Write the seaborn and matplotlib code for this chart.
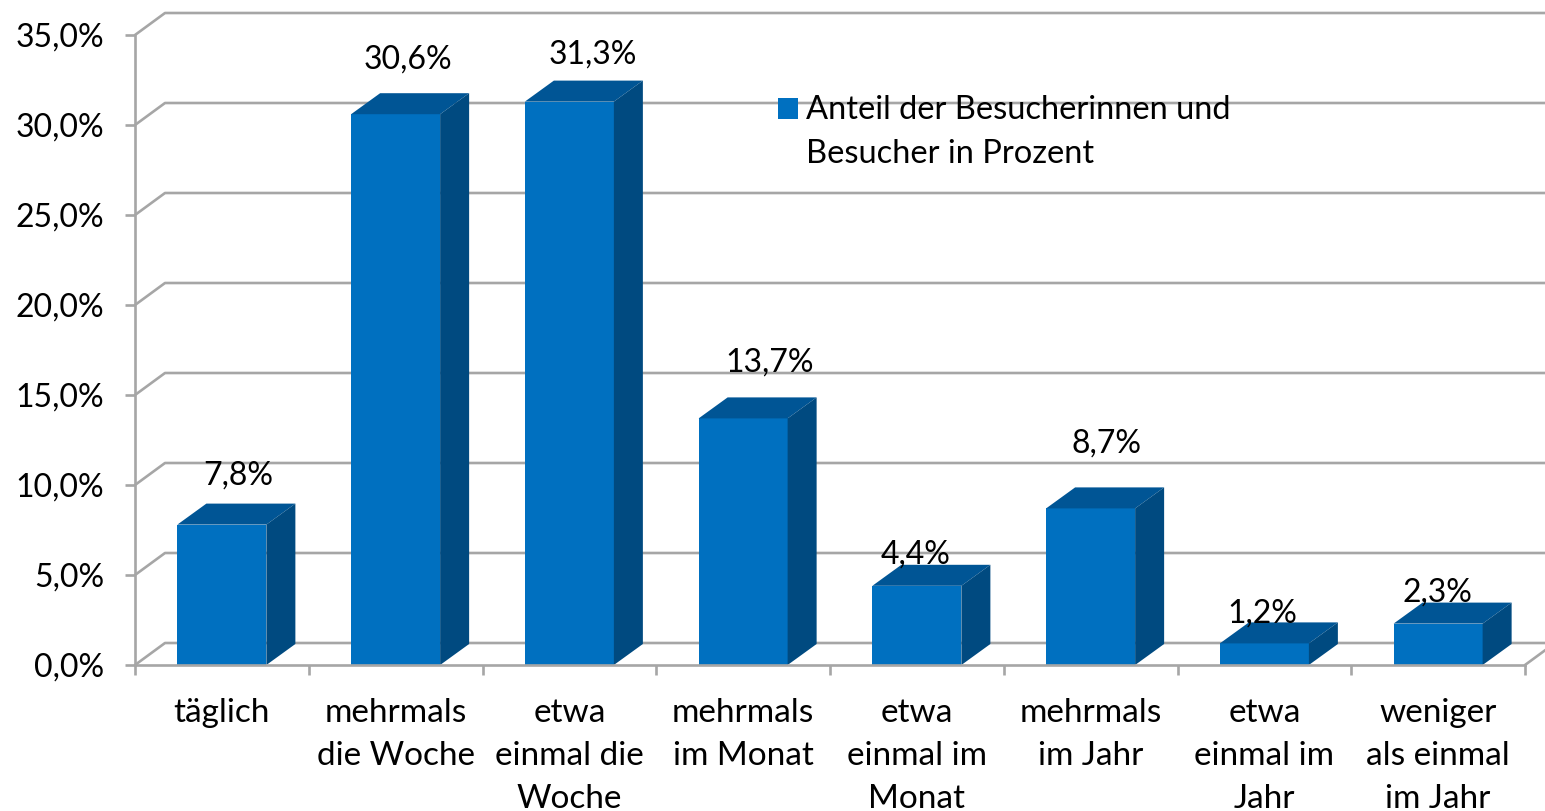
import matplotlib
matplotlib.use('Agg')
import matplotlib.pyplot as plt
import seaborn as sns
from matplotlib.patches import Polygon

categories = ['täglich', 'mehrmals\ndie Woche', 'etwa\neinmal die\nWoche', 'mehrmals\nim Monat',
              'etwa\neinmal im\nMonat', 'mehrmals\nim Jahr', 'etwa\neinmal im\nJahr', 'weniger\nals einmal\nim Jahr']
values = [7.8, 30.6, 31.3, 13.7, 4.4, 8.7, 1.2, 2.3]
bar_labels = ['7,8%', '30,6%', '31,3%', '13,7%', '4,4%', '8,7%', '1,2%', '2,3%']
y_ticks = [0, 5, 10, 15, 20, 25, 30, 35]
y_tick_labels = ['0,0%', '5,0%', '10,0%', '15,0%', '20,0%', '25,0%', '30,0%', '35,0%']
series_name = 'Anteil der Besucherinnen und\nBesucher in Prozent'

# pixel offsets of the labels from the top centre of each bar
label_offsets = [(16, 49), (12, 55), (23, 47), (27, 56), (-1, 31), (16, 65), (-2, 30), (-1, 31)]

sns.set_theme(style='white')
plt.rcParams['font.family'] = ['Lato', 'DejaVu Sans']

GREY = '#a6a6a6'
FRONT = '#0070c0'
TOP = '#005595'
SIDE = '#004a80'
FS = 24
FS_NUM = 23

fig = plt.figure(figsize=(15.45, 8.11), dpi=100)
ax = fig.add_axes([135 / 1545, 146 / 811, 1390 / 1545, 630 / 811])

sns.barplot(x=categories, y=values, color=FRONT, saturation=1, width=89 / 173.75,
            label=series_name, linewidth=0, edgecolor='none', ax=ax, zorder=3)
ax.set_xlim(-0.5, 7.5)
ax.set_ylim(0, 35)

# depth of the fake 3D, in data units
wall_dx = 30 / 173.75
wall_dy = 22 / 18
bar_dx = 29 / 173.75
bar_dy = 21 / 18

for v in y_ticks:
    ax.plot([-0.5, -0.5 + wall_dx, 7.5 + wall_dx], [v, v + wall_dy, v + wall_dy],
            color=GREY, lw=1.9, clip_on=False, zorder=1)
ax.plot([7.5, 7.5 + wall_dx], [0, wall_dy], color=GREY, lw=1.9, clip_on=False, zorder=1)

for bar, val, label, off in zip(ax.patches, values, bar_labels, label_offsets):
    x0 = bar.get_x()
    x1 = x0 + bar.get_width()
    ax.add_patch(Polygon([(x0, val), (x1, val), (x1 + bar_dx, val + bar_dy), (x0 + bar_dx, val + bar_dy)],
                         facecolor=TOP, edgecolor='none', lw=0, clip_on=False, zorder=3))
    ax.add_patch(Polygon([(x1, 0), (x1 + bar_dx, bar_dy), (x1 + bar_dx, val + bar_dy), (x1, val)],
                         facecolor=SIDE, edgecolor='none', lw=0, clip_on=False, zorder=3))
    ax.annotate(label, (x0 + bar.get_width() / 2, val), xytext=off, textcoords='offset pixels',
                ha='center', va='center', fontsize=FS_NUM, color='black', zorder=6)

sns.despine(ax=ax)
for side in ['left', 'bottom']:
    ax.spines[side].set_color(GREY)
    ax.spines[side].set_linewidth(1.9)
    ax.spines[side].set_zorder(4)

ax.set_yticks(y_ticks)
ax.set_yticklabels(y_tick_labels)
ax.tick_params(axis='y', length=7, width=1.9, color=GREY, pad=15, labelsize=FS_NUM, labelcolor='black', left=True)
ax.set_xticks([i - 0.5 for i in range(9)], minor=True)
ax.tick_params(axis='x', which='minor', length=7.5, width=1.9, color=GREY, bottom=True)
ax.tick_params(axis='x', which='major', length=0, pad=24, labelsize=FS, labelcolor='black')
for t in ax.get_xticklabels():
    t.set_linespacing(1.53)

leg = ax.legend(loc='upper left', bbox_to_anchor=(778 / 1545, 716 / 811), bbox_transform=fig.transFigure,
                frameon=False, fontsize=23.5, labelcolor='black', handlelength=0.61, handleheight=0.61,
                handletextpad=0.25, borderpad=0, borderaxespad=0)
leg.get_texts()[0].set_linespacing(1.57)
handle = leg.legend_handles[0]
handle.set_y(handle.get_y() + 17)

fig.savefig('out.png', dpi=100)
